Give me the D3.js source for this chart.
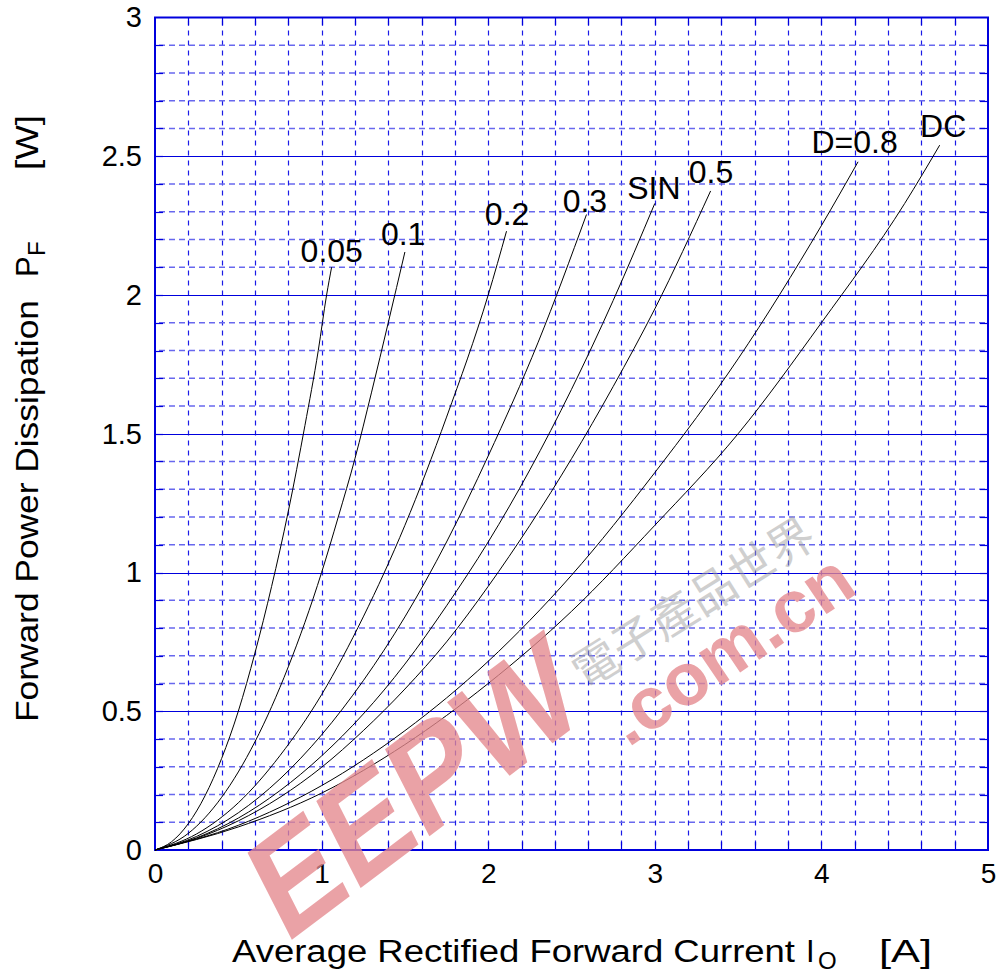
<!DOCTYPE html>
<html><head><meta charset="utf-8">
<script src="https://cdn.jsdelivr.net/npm/d3@7/dist/d3.min.js"></script>
<style>
html,body{margin:0;padding:0;background:#fff;}
svg{display:block;font-family:"Liberation Sans",Arial,sans-serif;}
text{white-space:pre;}
</style></head>
<body>
<svg id="chart" width="1000" height="977"></svg>
<script>
// ---- data ----
const xTicks = [0, 1, 2, 3, 4, 5];
const yTicks = [0, 0.5, 1, 1.5, 2, 2.5, 3];
const yTickLabels = ["0", "0.5", "1", "1.5", "2", "2.5", "3"];
const seriesNames = ["0.05", "0.1", "0.2", "0.3", "SIN", "0.5", "D=0.8", "DC"];

const curveD005 = [[0,0],[0.1,0.03],[0.2,0.095],[0.3,0.195],[0.4,0.33],[0.5,0.50],[0.6,0.71],[0.7,0.95],[0.8,1.22],[0.9,1.53],[0.98,1.8],[1.03,2.0],[1.06,2.1]];
const curveD01  = [[0,0],[0.2,0.06],[0.4,0.19],[0.6,0.39],[0.8,0.66],[1.0,1.0],[1.1,1.2],[1.2,1.41],[1.3,1.65],[1.4,1.9],[1.5,2.155]];
const curveD02  = [[0,0],[0.25,0.058],[0.5,0.17],[0.75,0.34],[1.0,0.56],[1.25,0.84],[1.5,1.17],[1.75,1.56],[2.0,2.0],[2.11,2.23]];
const curveD03  = [[0,0],[0.25,0.049],[0.5,0.134],[0.75,0.256],[1.0,0.415],[1.25,0.61],[1.5,0.84],[1.75,1.11],[2.0,1.42],[2.3,1.83],[2.59,2.29]];
const curveSIN  = [[0,0],[0.25,0.044],[0.5,0.115],[0.75,0.214],[1.0,0.339],[1.25,0.49],[1.5,0.67],[1.75,0.88],[2.0,1.11],[2.25,1.37],[2.5,1.66],[2.75,1.98],[3.0,2.33]];
const curveD05  = [[0,0],[0.25,0.042],[0.5,0.105],[0.75,0.19],[1.0,0.298],[1.25,0.43],[1.5,0.58],[1.75,0.75],[2.0,0.95],[2.25,1.17],[2.5,1.41],[2.75,1.67],[3.0,1.95],[3.335,2.375]];
const curveD08  = [[0,0],[0.5,0.089],[1.0,0.232],[1.5,0.43],[2.0,0.68],[2.5,0.99],[3.0,1.36],[3.5,1.77],[4.0,2.25],[4.22,2.48]];
const curveDC   = [[0,0],[0.5,0.083],[1.0,0.205],[1.5,0.38],[2.0,0.6],[2.5,0.86],[3.0,1.17],[3.5,1.5],[4.0,1.9],[4.5,2.33],[4.71,2.54]];
const curves = [curveD005, curveD01, curveD02, curveD03, curveSIN, curveD05, curveD08, curveDC];
// label anchor (x value, y value) = text left / baseline
const labelX = [0.874, 1.356, 1.98, 2.447, 2.834, 3.204, 3.94, 4.592];
const labelY = [2.12, 2.18, 2.253, 2.3, 2.347, 2.405, 2.51, 2.57];

// ---- layout ----
const svg = d3.select("#chart");
const L = 155, R = 988, T = 17.5, B = 850;
const x = d3.scaleLinear().domain([0, 5]).range([L, R]);
const y = d3.scaleLinear().domain([0, 3]).range([B, T]);
const blue = "#0000dd";
const px = v => Math.round(v) + 0.5;

const grid = svg.append("g");
const xMinor = d3.range(1, 25).map(i => i * 0.2);
grid.selectAll("line.vx").data(xMinor).join("line")
  .attr("x1", d => px(x(d))).attr("x2", d => px(x(d)))
  .attr("y1", T).attr("y2", B)
  .attr("stroke", "#1a1ae6").attr("stroke-width", 1.2)
  .attr("stroke-dasharray", "5,5").attr("stroke-dashoffset", -3);
const yMinor = d3.range(1, 30).filter(i => i % 5 !== 0).map(i => i * 0.1);
grid.selectAll("line.hy").data(yMinor).join("line")
  .attr("x1", L).attr("x2", R)
  .attr("y1", d => y(d)).attr("y2", d => y(d))
  .attr("stroke", "#6868ee").attr("stroke-width", 1.3)
  .attr("stroke-dasharray", "6,4").attr("stroke-dashoffset", -4);
grid.selectAll("line.hm").data(yTicks.filter(v => v > 0 && v < 3)).join("line")
  .attr("x1", L).attr("x2", R)
  .attr("y1", d => px(y(d))).attr("y2", d => px(y(d)))
  .attr("stroke", blue).attr("stroke-width", 1.2);

// inward ticks on all four sides
const tk = 8;
const yTickAll = d3.range(1, 30).map(i => i * 0.1);
grid.selectAll("line.tl").data(yTickAll).join("line")
  .attr("x1", L).attr("x2", L + tk).attr("y1", d => px(y(d))).attr("y2", d => px(y(d)))
  .attr("stroke", blue).attr("stroke-width", 1.2);
grid.selectAll("line.tr").data(yTickAll).join("line")
  .attr("x1", R - tk).attr("x2", R).attr("y1", d => px(y(d))).attr("y2", d => px(y(d)))
  .attr("stroke", blue).attr("stroke-width", 1.2);
grid.selectAll("line.tb").data(xMinor).join("line")
  .attr("x1", d => px(x(d))).attr("x2", d => px(x(d))).attr("y1", B - tk).attr("y2", B)
  .attr("stroke", blue).attr("stroke-width", 1.2);
grid.selectAll("line.tt").data(xMinor).join("line")
  .attr("x1", d => px(x(d))).attr("x2", d => px(x(d))).attr("y1", T).attr("y2", T + tk)
  .attr("stroke", blue).attr("stroke-width", 1.2);

svg.append("rect").attr("x", L).attr("y", T).attr("width", R - L).attr("height", B - T)
  .attr("fill", "none").attr("stroke", blue).attr("stroke-width", 2);

// tick labels
const xAxis = d3.axisBottom(x).tickValues(xTicks).tickSize(0).tickPadding(13).tickFormat(d3.format("d"));
const gx = svg.append("g").attr("transform", `translate(0,${B})`).call(xAxis);
gx.select(".domain").remove();
gx.selectAll("text").attr("font-size", 28).attr("fill", "#000").attr("font-family", "Liberation Sans, Arial, sans-serif");

const yAxis = d3.axisLeft(y).tickValues(yTicks).tickSize(0).tickPadding(13).tickFormat((d, i) => yTickLabels[i]);
const gy = svg.append("g").attr("transform", `translate(${L},0)`).call(yAxis);
gy.select(".domain").remove();
gy.selectAll("text").attr("font-size", 29).attr("fill", "#000").attr("font-family", "Liberation Sans, Arial, sans-serif");

// curves
const line = d3.line().x(d => x(d[0])).y(d => y(d[1])).curve(d3.curveMonotoneX);
svg.append("g").selectAll("path").data(curves).join("path")
  .attr("d", line).attr("fill", "none").attr("stroke", "#000").attr("stroke-width", 1);

// curve labels
svg.append("g").selectAll("text").data(seriesNames).join("text")
  .attr("x", (d, i) => x(labelX[i])).attr("y", (d, i) => y(labelY[i]))
  .attr("font-size", 32).attr("fill", "#000").text(d => d);

// axis titles
const xt = svg.append("g").attr("font-size", 31).attr("fill", "#000");
xt.append("text").attr("x", 232).attr("y", 962).attr("textLength", 563).attr("lengthAdjust", "spacingAndGlyphs").text("Average Rectified Forward Current");
xt.append("text").attr("x", 806).attr("y", 962).text("I");
xt.append("text").attr("x", 818).attr("y", 969).attr("font-size", 24).text("O");
xt.append("text").attr("x", 879).attr("y", 962).attr("textLength", 53).attr("lengthAdjust", "spacingAndGlyphs").text("[A]");

const yt = svg.append("g").attr("font-size", 31).attr("fill", "#000").attr("transform", "translate(38,0) rotate(-90)");
yt.append("text").attr("x", -722).attr("y", 0).attr("textLength", 422).attr("lengthAdjust", "spacingAndGlyphs").text("Forward Power Dissipation");
yt.append("text").attr("x", -277).attr("y", 0).text("P");
yt.append("text").attr("x", -256).attr("y", 7).attr("font-size", 24).text("F");
yt.append("text").attr("x", -170).attr("y", 0).attr("textLength", 55).attr("lengthAdjust", "spacingAndGlyphs").text("[W]");

// watermark
const wm = svg.append("g").attr("pointer-events", "none");
wm.append("text").attr("transform", "translate(285,945) rotate(-37) skewX(-10)")
  .attr("font-size", 140).attr("font-weight", "bold").attr("fill", "#e5898e").attr("opacity", 0.78)
  .attr("textLength", 380).attr("lengthAdjust", "spacingAndGlyphs")
  .attr("font-family", "Liberation Sans, Arial, sans-serif").text("EEPW");
wm.append("text").attr("transform", "translate(628,748) rotate(-34)")
  .attr("font-size", 74).attr("font-weight", "bold").attr("fill", "#e5898e").attr("opacity", 0.78)
  .attr("font-family", "Liberation Sans, Arial, sans-serif").text(".com.cn");
wm.append("text").attr("transform", "translate(585,690) rotate(-32)")
  .attr("font-size", 46).attr("fill", "#a0a0a0").attr("opacity", 0.5)
  .attr("font-family", "Noto Sans CJK TC, sans-serif").text("電子產品世界");
</script>
</body></html>
